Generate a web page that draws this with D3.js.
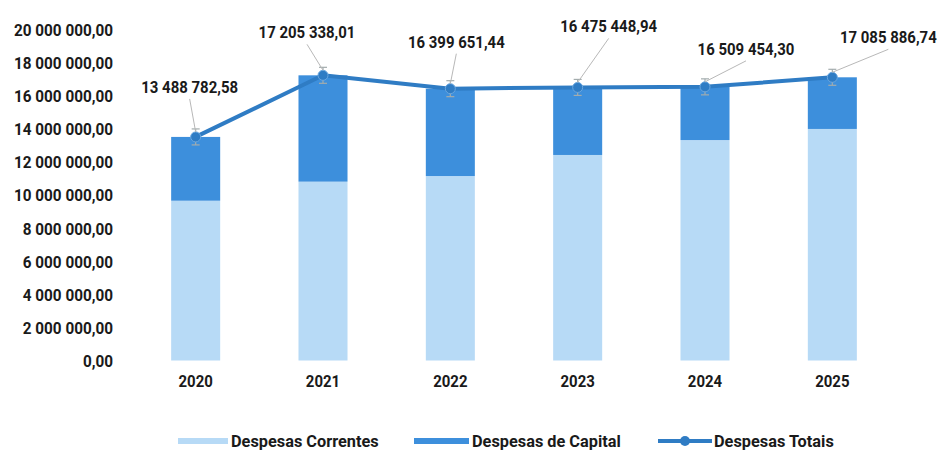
<!DOCTYPE html>
<html>
<head>
<meta charset="utf-8">
<script src="https://cdn.jsdelivr.net/npm/d3@7"></script>
<style>
  html, body { margin: 0; padding: 0; background: #fff; }
  svg { display: block; }
  text { font-family: Roboto, "Noto Sans", sans-serif; font-weight: bold; fill: #1a1a1a; }
</style>
</head>
<body>
<svg id="chart" width="943" height="452"></svg>
<script>
// Annual expenditure, split into current and capital spending
const years = ["2020", "2021", "2022", "2023", "2024", "2025"];
const totais = [13488782.58, 17205338.01, 16399651.44, 16475448.94, 16509454.30, 17085886.74];
const correntes = [9640000, 10790000, 11130000, 12400000, 13300000, 13970000];
const capital = totais.map((t, i) => t - correntes[i]);
const totalLabels = ["13 488 782,58", "17 205 338,01", "16 399 651,44", "16 475 448,94", "16 509 454,30", "17 085 886,74"];
const yTicks = [0, 2e6, 4e6, 6e6, 8e6, 10e6, 12e6, 14e6, 16e6, 18e6, 20e6];
const seriesNames = ["Despesas Correntes", "Despesas de Capital", "Despesas Totais"];

const colCorrentes = "#b7daf6";
const colCapital = "#3d8fdc";
const colLine = "#2f7cc4";

const svg = d3.select("#chart");

const x = d3.scaleBand().domain(years).range([132, 896]).paddingInner(0.615).paddingOuter(0.3075);
const y = d3.scaleLinear().domain([0, 20e6]).range([360.5, 29]);

// condense text horizontally (narrow display face look) around its anchor x
function condense(sel, factor) {
  sel.each(function () {
    const t = d3.select(this);
    const x0 = +t.attr("x") || 0;
    t.attr("x", 0).attr("transform", `translate(${x0},0) scale(${factor},1)`);
  });
}

// number format with space thousands separator and comma decimals
const fmt = d3.formatLocale({ decimal: ",", thousands: " ", grouping: [3], currency: ["", ""] }).format(",.2f");

// y axis: labels only
const yAxis = d3.axisLeft(y).tickValues(yTicks).tickFormat(d => fmt(d)).tickSize(0).tickPadding(0);
const gy = svg.append("g").attr("transform", "translate(113,0)").call(yAxis);
gy.select(".domain").remove();
gy.selectAll("text").attr("font-size", 17).attr("dy", "0.36em").attr("fill", "#1a1a1a").call(condense, 0.9);

// x axis: year labels
const xAxis = d3.axisBottom(x).tickSize(0).tickPadding(0);
const gx = svg.append("g").attr("transform", "translate(0,377)").call(xAxis);
gx.select(".domain").remove();
gx.selectAll("text").attr("font-size", 17).attr("dy", "0.6em").attr("fill", "#1a1a1a").call(condense, 0.88);

// stacked bars
const stackData = years.map((yr, i) => ({ year: yr, correntes: correntes[i], capital: capital[i] }));
const stacked = d3.stack().keys(["correntes", "capital"])(stackData);
const colors = { correntes: colCorrentes, capital: colCapital };
svg.append("g").selectAll("g").data(stacked).join("g")
  .attr("fill", s => colors[s.key])
  .selectAll("rect").data(s => s).join("rect")
  .attr("x", d => x(d.data.year))
  .attr("width", x.bandwidth())
  .attr("y", d => y(d[1]))
  .attr("height", d => y(d[0]) - y(d[1]));

// total line
const cx = yr => x(yr) + x.bandwidth() / 2;
const line = d3.line().x((d, i) => cx(years[i])).y(d => y(d));
svg.append("path").datum(totais).attr("d", line)
  .attr("fill", "none").attr("stroke", colLine).attr("stroke-width", 4).attr("stroke-linejoin", "round");

// small whisker caps around each point
const whisk = svg.append("g").attr("stroke", "#a3acad").attr("stroke-width", 1.2);
totais.forEach((t, i) => {
  const px = cx(years[i]), py = y(t);
  whisk.append("line").attr("x1", px - 4).attr("x2", px + 4).attr("y1", py - 8).attr("y2", py - 8);
  whisk.append("line").attr("x1", px - 4).attr("x2", px + 4).attr("y1", py + 8).attr("y2", py + 8);
  whisk.append("line").attr("x1", px).attr("x2", px).attr("y1", py - 8).attr("y2", py + 8);
});

svg.append("g").selectAll("circle").data(totais).join("circle")
  .attr("cx", (d, i) => cx(years[i])).attr("cy", d => y(d)).attr("r", 5)
  .attr("fill", colLine).attr("stroke", "#6aa7e0").attr("stroke-width", 1);

// value labels with leader lines (offsets from each point)
const labelOffsets = [[-6, -44], [-16, -37], [6, -41], [31, -55], [41, -32], [56, -34]];
const lg = svg.append("g");
totais.forEach((t, i) => {
  const px = cx(years[i]), py = y(t);
  const lx = px + labelOffsets[i][0], ly = py + labelOffsets[i][1];
  lg.append("line").attr("x1", px).attr("y1", py - 5).attr("x2", lx).attr("y2", ly + 6)
    .attr("stroke", "#b8b8b8").attr("stroke-width", 1);
  lg.append("text").attr("x", lx).attr("y", ly).attr("text-anchor", "middle")
    .attr("font-size", 17).text(totalLabels[i]).call(condense, 0.88);
});

// legend
const leg = svg.append("g").attr("transform", "translate(0,441)");
leg.append("rect").attr("x", 178).attr("y", -3).attr("width", 50).attr("height", 6).attr("fill", colCorrentes);
leg.append("rect").attr("x", 414).attr("y", -3).attr("width", 55).attr("height", 6).attr("fill", colCapital);
leg.append("line").attr("x1", 658).attr("x2", 712).attr("y1", 0).attr("y2", 0).attr("stroke", colLine).attr("stroke-width", 4);
leg.append("circle").attr("cx", 685).attr("cy", 0).attr("r", 5).attr("fill", colLine);
leg.append("g").selectAll("text").data(seriesNames).join("text")
  .attr("x", (d, i) => [231, 472, 714][i]).attr("y", 0).attr("dy", "0.36em")
  .attr("font-size", 17).text(d => d).call(condense, 0.96);
</script>
</body>
</html>
